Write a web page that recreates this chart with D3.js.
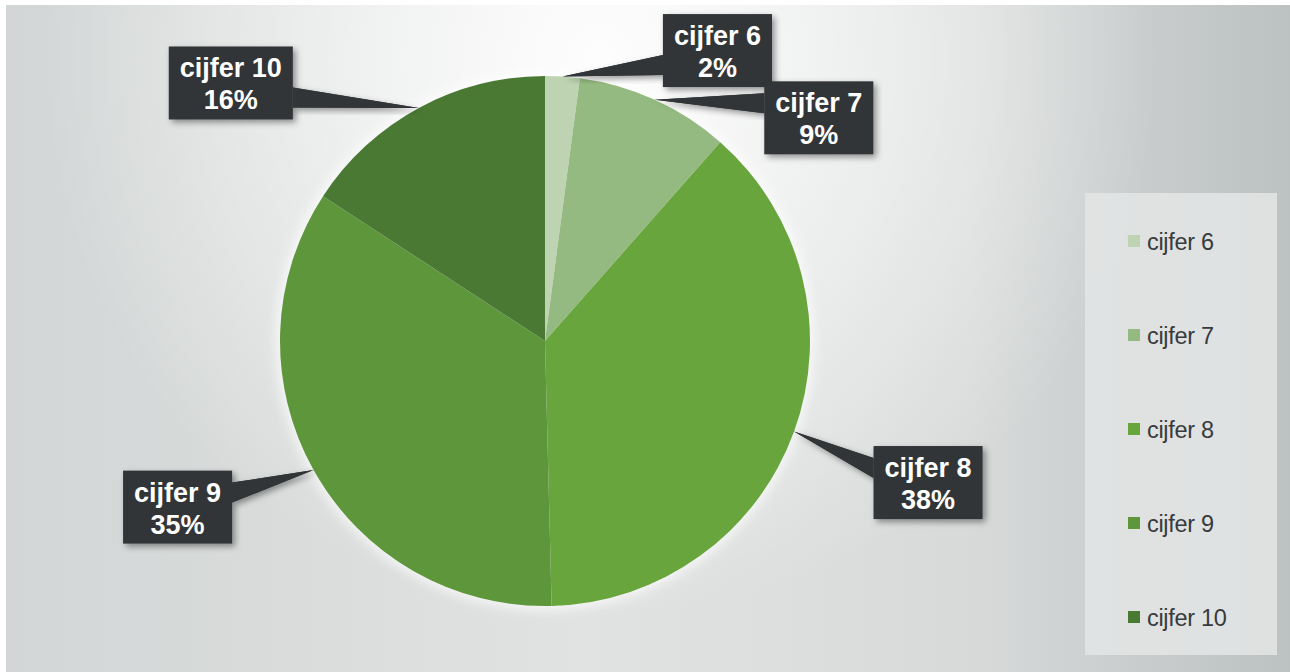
<!DOCTYPE html>
<html>
<head>
<meta charset="utf-8">
<script src="https://cdn.jsdelivr.net/npm/d3@7"></script>
<style>
  html, body { margin: 0; padding: 0; background: #ffffff; }
  svg { display: block; }
</style>
</head>
<body>
<svg id="chart" width="1290" height="672"></svg>
<script>
// ---- data ----
const categories = ["cijfer 6", "cijfer 7", "cijfer 8", "cijfer 9", "cijfer 10"];
const values = [2.1, 9.4, 38.1, 34.6, 15.8];
const percentLabels = ["2%", "9%", "38%", "35%", "16%"];
const colors = ["#bdd3b1", "#95ba81", "#69a53d", "#5e963b", "#4a7934"];

// ---- layout (label box offsets from the slice pointer tip) ----
const labelOffsets = [[155, -26], [164, 18], [134, 51], [-136, 37], [-188, -25]];

const W = 1290, H = 672;
const cx = 545, cy = 341, R = 265;

const svg = d3.select("#chart");
const defs = svg.append("defs");

// background gradients
const lin = defs.append("linearGradient").attr("id", "bgLin")
  .attr("x1", "0%").attr("x2", "100%").attr("y1", "0%").attr("y2", "0%");
lin.append("stop").attr("offset", "0%").attr("stop-color", "#d3d6d6");
lin.append("stop").attr("offset", "45%").attr("stop-color", "#e1e2e2");
lin.append("stop").attr("offset", "75%").attr("stop-color", "#d8dada");
lin.append("stop").attr("offset", "100%").attr("stop-color", "#bcc1c1");

const rad = defs.append("radialGradient").attr("id", "bgRad")
  .attr("gradientUnits", "userSpaceOnUse")
  .attr("cx", 600).attr("cy", 60).attr("r", 560);
rad.append("stop").attr("offset", "0%").attr("stop-color", "#ffffff").attr("stop-opacity", 0.95);
rad.append("stop").attr("offset", "45%").attr("stop-color", "#ffffff").attr("stop-opacity", 0.55);
rad.append("stop").attr("offset", "100%").attr("stop-color", "#ffffff").attr("stop-opacity", 0);

const shadow = defs.append("filter").attr("id", "boxShadow")
  .attr("x", "-20%").attr("y", "-20%").attr("width", "150%").attr("height", "150%");
shadow.append("feDropShadow").attr("dx", 3).attr("dy", 3).attr("stdDeviation", 3)
  .attr("flood-color", "#000").attr("flood-opacity", 0.4);

const glow = defs.append("filter").attr("id", "glow")
  .attr("x", "-20%").attr("y", "-20%").attr("width", "140%").attr("height", "140%");
glow.append("feGaussianBlur").attr("stdDeviation", 6);

svg.append("rect").attr("x", 6).attr("y", 5).attr("width", W - 6).attr("height", H - 5)
  .attr("fill", "url(#bgLin)");
svg.append("rect").attr("x", 6).attr("y", 5).attr("width", W - 6).attr("height", H - 5)
  .attr("fill", "url(#bgRad)");

// ---- pie ----
const g = svg.append("g").attr("transform", `translate(${cx},${cy})`);
const pie = d3.pie().sort(null).value(d => d)(values);
const arc = d3.arc().innerRadius(0).outerRadius(R);

g.append("circle").attr("r", R + 4).attr("fill", "#ffffff").attr("opacity", 0.7)
  .attr("filter", "url(#glow)");

g.selectAll("path.slice").data(pie).join("path")
  .attr("class", "slice")
  .attr("d", arc)
  .attr("fill", (d, i) => colors[i]);

// ---- callout labels ----
const labelFont = "'Liberation Sans', Arial, sans-serif";
const lg = svg.append("g");
pie.forEach((d, i) => {
  const mid = (d.startAngle + d.endAngle) / 2;
  const tip = [cx + R * Math.sin(mid), cy - R * Math.cos(mid)];
  const bc = [tip[0] + labelOffsets[i][0], tip[1] + labelOffsets[i][1]];

  const grp = lg.append("g");
  const t1 = grp.append("text").text(categories[i])
    .attr("font-family", labelFont).attr("font-weight", "bold").attr("font-size", 27)
    .attr("fill", "#ffffff").attr("text-anchor", "middle");
  const tw = t1.node().getComputedTextLength();
  const bw = tw + 22, bh = 73;
  const x0 = bc[0] - bw / 2, y0 = bc[1] - bh / 2;

  const side = tip[0] < bc[0] ? x0 : x0 + bw;
  const baseY = Math.max(y0 + 22, Math.min(y0 + bh - 22, tip[1]));
  const wedge = [[tip[0], tip[1]], [side, baseY - 10], [side, baseY + 10]];
  grp.insert("path", "text")
    .attr("d", d3.line()(wedge) + "Z")
    .attr("fill", "#323537").attr("filter", "url(#boxShadow)");
  grp.insert("rect", "text")
    .attr("x", x0).attr("y", y0).attr("width", bw).attr("height", bh)
    .attr("fill", "#323537").attr("filter", "url(#boxShadow)");
  grp.insert("path", "text")
    .attr("d", d3.line()(wedge) + "Z")
    .attr("fill", "#323537");

  t1.attr("x", bc[0]).attr("y", y0 + 31);
  grp.append("text").text(percentLabels[i])
    .attr("font-family", labelFont).attr("font-weight", "bold").attr("font-size", 27)
    .attr("fill", "#ffffff").attr("text-anchor", "middle")
    .attr("x", bc[0]).attr("y", y0 + 63);
});

// ---- legend ----
const legX = 1085, legY = 193, legW = 192, legH = 462;
svg.append("rect").attr("x", legX).attr("y", legY).attr("width", legW).attr("height", legH)
  .attr("fill", "#e2e4e4").attr("opacity", 0.9);

const legScale = d3.scalePoint().domain(categories).range([241, 617]);
const li = svg.append("g").selectAll("g").data(categories).join("g")
  .attr("transform", d => `translate(1128,${legScale(d)})`);
li.append("rect").attr("x", 0).attr("y", -6).attr("width", 12).attr("height", 12)
  .attr("fill", (d, i) => colors[i]);
li.append("text").text(d => d)
  .attr("x", 19).attr("y", 8.5)
  .attr("font-family", labelFont).attr("font-size", 23.5)
  .attr("letter-spacing", -0.3)
  .attr("fill", "#383b3d");
</script>
</body>
</html>
